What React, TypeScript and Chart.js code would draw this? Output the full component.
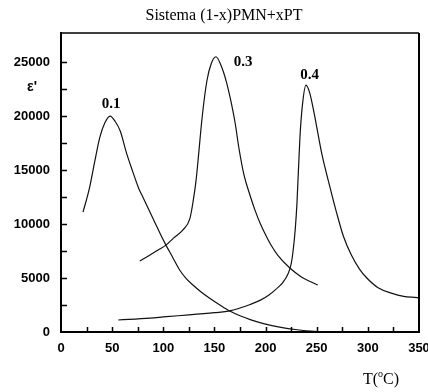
import React, { useEffect, useRef } from 'react';
import { Chart, registerables } from 'chart.js';

Chart.register(...registerables);

// x = 0.1
const temp01 = [21.5, 28, 33, 38, 43, 48, 53, 58, 64, 70, 76, 80, 86, 92, 97, 102.6, 109, 116, 122, 129, 137, 145.7, 155, 165, 175, 185, 198, 215, 231, 248, 258];
const eps01 = [11100, 13400, 15800, 18050, 19400, 20000, 19500, 18600, 16600, 14900, 13300, 12500, 11300, 10100, 9100, 8050, 6950, 5740, 5000, 4350, 3700, 3100, 2520, 1940, 1500, 1150, 780, 430, 210, 50, 0];

// x = 0.3
const temp03 = [77, 87, 95, 102.6, 110, 119, 126, 129, 132, 134, 138, 142.7, 147, 151.5, 156, 162, 170, 174, 179, 185, 190, 195, 200, 205, 212, 224, 235, 243, 251];
const eps03 = [6570, 7130, 7600, 8050, 8700, 9440, 10500, 12000, 14000, 15900, 19900, 23300, 24900, 25500, 24800, 23050, 19500, 17000, 14500, 12600, 11200, 10000, 9000, 8100, 7100, 5900, 5100, 4700, 4350];

// x = 0.4
const temp04 = [56, 87, 103, 125, 150, 165, 175, 185, 195, 203, 210, 217, 222, 225, 227, 229, 230.7, 233.6, 236, 239.5, 243, 247, 250, 255, 263, 269, 276, 284, 292, 299, 310, 323, 335, 348, 350];
const eps04 = [1110, 1280, 1420, 1580, 1790, 1950, 2220, 2550, 2950, 3400, 3950, 4600, 5400, 6300, 7600, 9500, 11940, 18050, 21000, 22870, 22200, 20500, 19000, 16500, 13400, 11200, 8900, 7100, 5800, 5000, 4100, 3600, 3300, 3180, 3150];

const xLabels = ['0', '50', '100', '150', '200', '250', '300', '350'];
const yLabels = ['0', '5000', '10000', '15000', '20000', '25000'];
const yTickValues = [0, 2500, 5000, 7500, 10000, 12500, 15000, 17500, 20000, 22500, 25000];

const seriesNames = ['0.1', '0.3', '0.4'];
const labelAnchorsT = [49, 178, 243];
const labelAnchorsE = [21100, 25000, 23800];

const titleText = 'Sistema (1-x)PMN+xPT';
const yTitle = "ε'";

const zip = (a: number[], b: number[]) => a.map((v, i) => ({ x: v, y: b[i] }));

const decor = {
  id: 'decor',
  afterDraw(chart: any) {
    const { ctx, chartArea: a, scales } = chart;
    const x = scales.x;
    const y = scales.y;
    ctx.save();
    ctx.strokeStyle = '#000';
    ctx.fillStyle = '#000';
    const line = (x1: number, y1: number, x2: number, y2: number) => {
      ctx.beginPath();
      ctx.moveTo(x1, y1);
      ctx.lineTo(x2, y2);
      ctx.stroke();
    };
    ctx.lineWidth = 1.5;
    x.ticks.forEach((t: any) => {
      if (t.value % 25 === 0 && t.value > 0 && t.value < 350) {
        const px = Math.round(x.getPixelForValue(t.value)) + 0.5;
        line(px, a.bottom, px, a.bottom - 5);
      }
    });
    y.ticks.forEach((t: any) => {
      if (t.value % 2500 === 0 && t.value > 0) {
        const py = Math.round(y.getPixelForValue(t.value)) + 0.5;
        line(a.left, py, a.left + 6, py);
      }
    });
    // frame
    ctx.lineWidth = 1.5;
    line(a.left, a.top, a.right, a.top);
    ctx.lineWidth = 2;
    line(a.right, a.top, a.right, a.bottom);
    line(a.left, a.top - 1, a.left, a.bottom + 1);
    line(a.left, a.bottom, a.right + 1, a.bottom);

    // title
    ctx.font = "16px 'Liberation Serif'";
    ctx.textAlign = 'center';
    ctx.textBaseline = 'alphabetic';
    ctx.fillText(titleText, 224, 20);

    // y label
    ctx.font = "bold 14px 'Liberation Sans'";
    ctx.textAlign = 'left';
    ctx.fillText(yTitle, 27, 91);

    // series labels
    ctx.font = "bold 15px 'Liberation Serif'";
    ctx.textAlign = 'center';
    ctx.textBaseline = 'middle';
    seriesNames.forEach((n, i) => {
      ctx.fillText(n, x.getPixelForValue(labelAnchorsT[i]), y.getPixelForValue(labelAnchorsE[i]));
    });

    // x label T(°C)
    ctx.textAlign = 'left';
    ctx.textBaseline = 'alphabetic';
    ctx.font = "16px 'Liberation Serif'";
    let cx = 363;
    const by = 384;
    ctx.fillText('T(', cx, by);
    cx += ctx.measureText('T(').width;
    ctx.font = "10px 'Liberation Serif'";
    ctx.fillText('o', cx, by - 7);
    cx += ctx.measureText('o').width;
    ctx.font = "16px 'Liberation Serif'";
    ctx.fillText('C)', cx, by);
    ctx.restore();
  },
};

export default function App() {
  const ref = useRef<HTMLCanvasElement>(null);
  useEffect(() => {
    document.body.style.margin = '0';
    const ds = (d: any[]) => ({
      data: d,
      borderColor: '#111',
      borderWidth: 1.2,
      pointRadius: 0,
      fill: false,
      cubicInterpolationMode: 'monotone' as const,
      tension: 0.4,
    });
    const chart = new Chart(ref.current!, {
      type: 'line',
      data: {
        datasets: [ds(zip(temp01, eps01)), ds(zip(temp03, eps03)), ds(zip(temp04, eps04))],
      },
      options: {
        animation: false,
        responsive: false,
        devicePixelRatio: 1,
        layout: { padding: { left: 0, right: 9, top: 33, bottom: 0 } },
        plugins: { legend: { display: false }, tooltip: { enabled: false }, title: { display: false } },
        scales: {
          x: {
            type: 'linear',
            min: 0,
            max: 350,
            border: { display: false },
            grid: { display: false, drawTicks: false },
            ticks: {
              stepSize: 25,
              maxTicksLimit: 40,
              autoSkip: false,
              maxRotation: 0,
              padding: 9,
              color: '#000',
              font: { family: "'Liberation Sans'", size: 13, weight: 'bold' },
              callback: (v: any) => (Number(v) % 50 === 0 ? xLabels[Number(v) / 50] : ''),
            },
            afterFit: (s: any) => {
              s.height = 60;
              s.paddingLeft = 0;
              s.paddingRight = 0;
            },
          },
          y: {
            min: 0,
            max: 27700,
            border: { display: false },
            grid: { display: false, drawTicks: false },
            afterBuildTicks: (s: any) => {
              s.ticks = yTickValues.map((v) => ({ value: v }));
            },
            ticks: {
              autoSkip: false,
              padding: 11,
              color: '#000',
              font: { family: "'Liberation Sans'", size: 13, weight: 'bold' },
              callback: (v: any) => (Number(v) % 5000 === 0 ? yLabels[Number(v) / 5000] : ''),
            },
            afterFit: (s: any) => {
              s.width = 61;
              s.paddingTop = 0;
              s.paddingBottom = 0;
            },
          },
        },
      },
      plugins: [decor],
    });
    return () => chart.destroy();
  }, []);
  return <canvas ref={ref} width={428} height={392} style={{ display: 'block' }} />;
}
